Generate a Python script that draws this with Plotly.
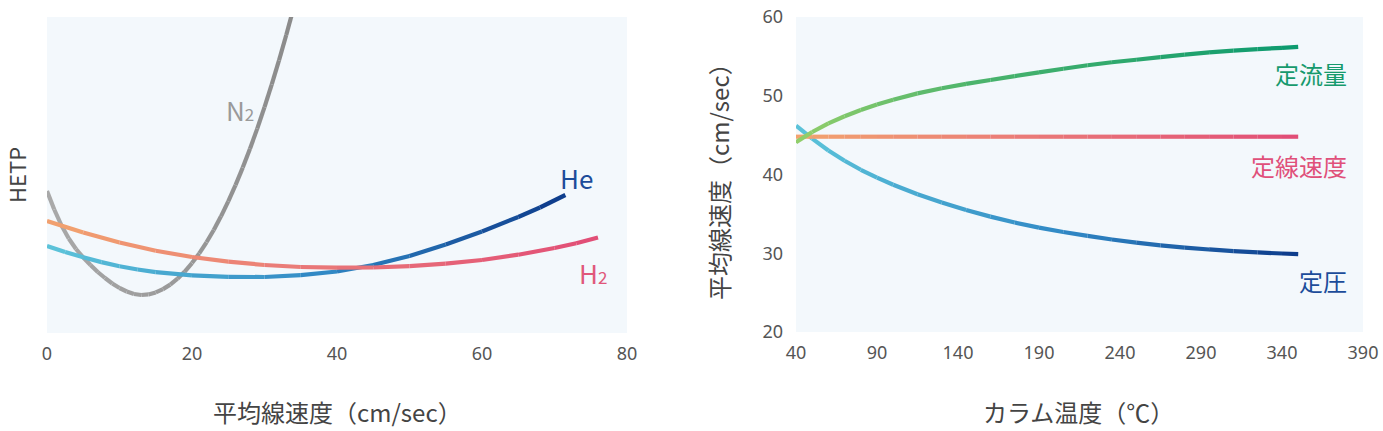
import plotly.graph_objects as go
from plotly.colors import sample_colorscale

# ---------- Left chart: HETP (arbitrary units) vs average linear velocity (cm/sec) ----------
n2_x = [0, 1, 2, 3, 4, 5, 6, 7, 8, 9, 10, 11, 12, 13, 14, 15, 16, 17, 18, 19, 20,
        21, 22, 23, 24, 25, 26, 27, 28, 29, 30, 31, 32, 33, 34]
n2_y = [142, 123.5, 107.5, 94.5, 84, 75.5, 68, 61, 55, 49.5, 45, 41.5, 39, 38, 38.6,
        40.6, 43.9, 48.4, 54.3, 61.4, 69.9, 79.6, 90.7, 103, 116.7, 131.6, 147.9,
        165.4, 184.3, 204.4, 225.9, 248.6, 272.7, 298, 324.7]

he_x = [0, 2.5, 5, 7.5, 10, 12.5, 15, 20, 25, 30, 35, 40, 45, 50, 55, 60, 65, 68, 71.5]
he_y = [87, 81, 75.7, 70.9, 66.8, 63.5, 60.9, 57.6, 56.1, 56, 57.8, 61.5, 68, 77, 88.5,
        101.5, 116, 125.5, 138]

h2_x = [0, 5, 10, 15, 20, 25, 30, 35, 40, 45, 50, 55, 60, 65, 70, 73, 76]
h2_y = [112, 100.5, 90.5, 82.3, 76, 71.3, 68, 66, 65.3, 65.5, 66.8, 69.3, 73, 78.3, 85, 89.7, 95.5]

# ---------- Right chart: average linear velocity (cm/sec) vs column temperature (°C) ----------
temp_x = [40, 50, 60, 70, 80, 90, 100, 115, 130, 145, 160, 175, 190, 205, 220, 235,
          250, 265, 280, 295, 310, 325, 340, 350]
flow_y = [44.1, 45.4, 46.5, 47.4, 48.2, 48.9, 49.5, 50.3, 50.95, 51.5, 52.0, 52.5,
          52.97, 53.43, 53.87, 54.25, 54.57, 54.9, 55.23, 55.5, 55.74, 55.93, 56.08, 56.2]
linear_y = [44.8] * len(temp_x)
press_y = [46.2, 44.55, 43.05, 41.75, 40.6, 39.6, 38.7, 37.5, 36.45, 35.5, 34.65, 33.9,
           33.25, 32.7, 32.2, 31.75, 31.35, 31.0, 30.72, 30.48, 30.27, 30.1, 29.97, 29.9]

x_ticks_left = [0, 20, 40, 60, 80]
x_ticks_right = [40, 90, 140, 190, 240, 290, 340, 390]
y_ticks_right = [20, 30, 40, 50, 60]

GRAY = [[0, "#a9a9a9"], [1, "#8b8b8b"]]
BLUE = [[0, "#5cc4da"], [0.55, "#2f86c4"], [1, "#0d3a8a"]]
REDC = [[0, "#f2a36e"], [0.45, "#ea7b78"], [1, "#e14d77"]]
GREEN = [[0, "#93cf6b"], [0.35, "#4cb46c"], [1, "#0b9a6f"]]

fig = go.Figure()


def add_gradient(xs, ys, scale, xaxis, yaxis, width=4.2):
    x0, x1 = xs[0], xs[-1]
    for i in range(len(xs) - 1):
        t = ((xs[i] + xs[i + 1]) / 2 - x0) / (x1 - x0)
        col = sample_colorscale(scale, [t])[0]
        fig.add_trace(go.Scatter(
            x=[xs[i], xs[i + 1]], y=[ys[i], ys[i + 1]], mode="lines",
            line=dict(color=col, width=width), xaxis=xaxis, yaxis=yaxis,
            hoverinfo="skip", showlegend=False, cliponaxis=True))


add_gradient(n2_x, n2_y, GRAY, "x", "y")
add_gradient(he_x, he_y, BLUE, "x", "y")
add_gradient(h2_x, h2_y, REDC, "x", "y")

add_gradient(temp_x, press_y, BLUE, "x2", "y2")
add_gradient(temp_x, linear_y, REDC, "x2", "y2")
add_gradient(temp_x, flow_y, GREEN, "x2", "y2")

FONT = "Noto Sans CJK JP, Noto Sans, sans-serif"
TICKFONT = dict(family="Noto Sans, Noto Sans CJK JP, sans-serif", size=18, color="#555555")
BG = "#f3f8fc"

W, H = 1383, 431

fig.update_layout(
    width=W, height=H,
    margin=dict(l=0, r=0, t=0, b=0, pad=0, autoexpand=False),
    paper_bgcolor="white", plot_bgcolor=BG,
    font=dict(family=FONT, color="#444444"),
    showlegend=False,
    xaxis=dict(domain=[47 / W, 627 / W], range=[0, 80], tickvals=x_ticks_left,
               showgrid=False, zeroline=False, showline=False, ticks="",
               tickfont=TICKFONT, ticklabelstandoff=8, automargin=False, fixedrange=True),
    yaxis=dict(domain=[1 - 333 / H, 1 - 17 / H], range=[0, 316], showticklabels=False,
               showgrid=False, zeroline=False, showline=False, automargin=False, fixedrange=True),
    xaxis2=dict(domain=[796 / W, 1363 / W], range=[40, 390], tickvals=x_ticks_right,
                showgrid=False, zeroline=False, showline=False, ticks="",
                tickfont=TICKFONT, anchor="y2", ticklabelstandoff=8, automargin=False,
                fixedrange=True),
    yaxis2=dict(domain=[1 - 332 / H, 1 - 17 / H], range=[20, 60], tickvals=y_ticks_right,
                showgrid=False, zeroline=False, showline=False, ticks="",
                tickfont=TICKFONT, anchor="x2", ticklabelstandoff=12, automargin=False,
                fixedrange=True),
)

ann = []
labels_left = [
    ("N<span style='font-size:17px'>2</span>", 26.6, 223, "#9a9a9a"),
    ("He", 73.0, 155, "#1c4c9a"),
    ("H<span style='font-size:17px'>2</span>", 75.3, 61, "#e0577a"),
]
for txt, x, y, c in labels_left:
    ann.append(dict(x=x, y=y, xref="x", yref="y", text=txt, showarrow=False,
                    font=dict(family=FONT, size=26, color=c), xanchor="center", yanchor="middle"))

labels_right = [
    ("定流量", 52.8, "#169a6d"),
    ("定線速度", 41.1, "#e0507a"),
    ("定圧", 26.5, "#1c4c9a"),
]
for txt, y, c in labels_right:
    ann.append(dict(x=1349 / W, y=y, xref="paper", yref="y2", text=txt, showarrow=False,
                    font=dict(family=FONT, size=24, color=c), xanchor="right", yanchor="middle"))

TITLE = dict(family=FONT, size=24, color="#444444")
ann.append(dict(x=337 / W, y=1 - 411 / H, xref="paper", yref="paper", text="平均線速度（cm/sec）",
                showarrow=False, font=TITLE, xanchor="center", yanchor="middle"))
ann.append(dict(x=16 / W, y=1 - 175 / H, xref="paper", yref="paper", text="HETP",
                showarrow=False, textangle=-90, font=dict(family=FONT, size=22, color="#444444"),
                xanchor="center", yanchor="middle"))
ann.append(dict(x=1078 / W, y=1 - 411 / H, xref="paper", yref="paper", text="カラム温度（℃）",
                showarrow=False, font=TITLE, xanchor="center", yanchor="middle"))
ann.append(dict(x=718 / W, y=1 - 176 / H, xref="paper", yref="paper", text="平均線速度（cm/sec）",
                showarrow=False, textangle=-90, font=TITLE, xanchor="center", yanchor="middle"))

fig.update_layout(annotations=ann)
fig.write_html("out.html")
